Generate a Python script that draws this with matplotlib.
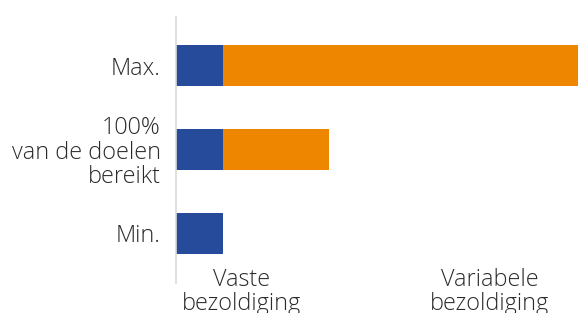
import matplotlib.pyplot as plt

plt.rcParams['font.family'] = ['Open Sans', 'DejaVu Sans']

categories = ['Min.', '100%\nvan de doelen\nbereikt', 'Max.']
fixed_pay = [1.0, 1.0, 1.0]
variable_pay = [0.0, 2.25, 7.55]
series_labels = ['Vaste\nbezoldiging', 'Variabele\nbezoldiging']

blue = '#264b9a'
orange = '#ee8600'
text_col = '#2b2b2b'

fig = plt.figure(figsize=(5.78, 3.13), dpi=100)
ax = fig.add_axes([176 / 578, 30 / 313, 1 - 176 / 578, 266 / 313])

ypos = range(len(categories))
ax.barh(ypos, fixed_pay, height=0.49, color=blue)
ax.barh(ypos, variable_pay, left=fixed_pay, height=0.49, color=orange)

ax.set_xlim(0, 8.55)
ax.set_ylim(-0.59, 2.58)
ax.set_yticks(list(ypos))
ax.set_yticklabels(categories, fontsize=16.8, color=text_col, linespacing=1.02,
                   fontweight='light')
ax.tick_params(axis='y', length=0, pad=11)
ax.set_xticks([])

for s in ['top', 'right', 'bottom']:
    ax.spines[s].set_visible(False)
ax.spines['left'].set_color('#d9d9d9')
ax.spines['left'].set_linewidth(1.2)

# series labels under the bars
fig.text(242 / 578, 1 - 268 / 313, series_labels[0], ha='center', va='top',
         fontsize=16.8, color=text_col, linespacing=1.02, fontweight='light')
fig.text(490 / 578, 1 - 268 / 313, series_labels[1], ha='center', va='top',
         fontsize=16.8, color=text_col, linespacing=1.02, fontweight='light')

fig.savefig('out.png', dpi=100)
